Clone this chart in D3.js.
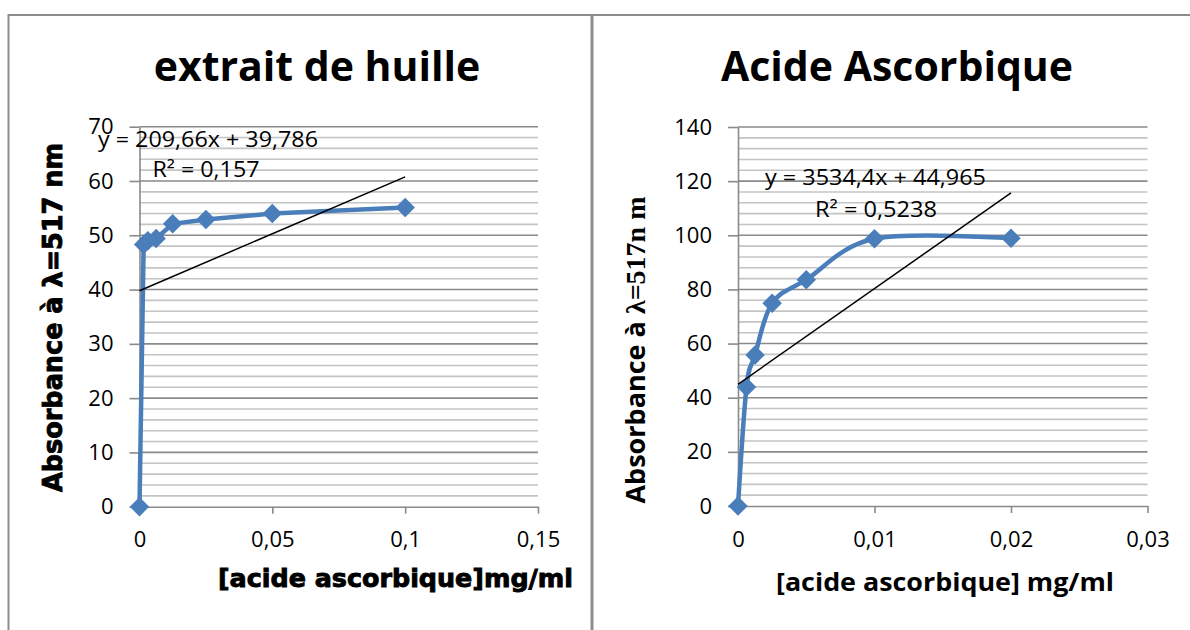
<!DOCTYPE html>
<html>
<head>
<meta charset="utf-8">
<script src="https://cdn.jsdelivr.net/npm/d3@7"></script>
<style>
  body { margin: 0; background: #fff; }
  svg { display: block; }
</style>
</head>
<body>
<svg width="1190" height="630"></svg>
<script>
// extrait de huille
var huileX = [0, 0.0015625, 0.003125, 0.00625, 0.0125, 0.025, 0.05, 0.1];
var huileY = [0, 48.3, 49, 49.4, 52.1, 52.9, 54, 55.1];
var huileXTicks = [0, 0.05, 0.1, 0.15];
var huileYTicks = [0, 10, 20, 30, 40, 50, 60, 70];
var huileTrend = [209.66, 39.786];

// acide ascorbique
var ascX = [0, 0.000625, 0.00125, 0.0025, 0.005, 0.01, 0.02];
var ascY = [0, 44, 55.8, 74.9, 83.6, 98.7, 98.9];
var ascXTicks = [0, 0.01, 0.02, 0.03];
var ascYTicks = [0, 20, 40, 60, 80, 100, 120, 140];
var ascTrend = [3534.4, 44.965];

var svg = d3.select("svg");
var blue = "#4a7ebb";
var fmt = function(d) { return String(d).replace(".", ","); };

// panel borders
svg.append("line").attr("x1", 8).attr("x2", 1190).attr("y1", 15).attr("y2", 15)
  .attr("stroke", "#8c8c8c").attr("stroke-width", 2);
svg.append("line").attr("x1", 8.5).attr("x2", 8.5).attr("y1", 14).attr("y2", 630)
  .attr("stroke", "#8c8c8c").attr("stroke-width", 2);
svg.append("line").attr("x1", 592).attr("x2", 592).attr("y1", 14).attr("y2", 630)
  .attr("stroke", "#8c8c8c").attr("stroke-width", 3);

function drawChart(o) {
  var g = svg.append("g");
  var x = d3.scaleLinear().domain([0, o.xTicks[o.xTicks.length - 1]]).range([o.left, o.right]);
  var y = d3.scaleLinear().domain([0, o.yTicks[o.yTicks.length - 1]]).range([o.bottom, o.top]);

  var minor = d3.range(0, y.domain()[1] + 0.001, o.minorStep)
    .filter(function(d) { return o.yTicks.indexOf(d) < 0; });

  g.append("g").selectAll("line").data(minor).join("line")
    .attr("x1", o.left).attr("x2", o.right)
    .attr("y1", function(d) { return y(d); }).attr("y2", function(d) { return y(d); })
    .attr("stroke", "#c4c4c4").attr("stroke-width", 1.6);

  g.append("g").selectAll("line").data(o.yTicks.slice(1)).join("line")
    .attr("x1", o.left).attr("x2", o.right)
    .attr("y1", function(d) { return y(d); }).attr("y2", function(d) { return y(d); })
    .attr("stroke", "#8a8a8a").attr("stroke-width", 1.6);

  var ya = g.append("g").attr("transform", "translate(" + o.left + ",0)")
    .call(d3.axisLeft(y).tickValues(o.yTicks).tickSize(10).tickSizeOuter(0)
      .tickPadding(16).tickFormat(fmt));
  var xa = g.append("g").attr("transform", "translate(0," + o.bottom + ")")
    .call(d3.axisBottom(x).tickValues(o.xTicks).tickSize(7).tickSizeOuter(0)
      .tickPadding(18).tickFormat(fmt));
  [ya, xa].forEach(function(a) {
    a.selectAll("path, line").attr("stroke", "#8a8a8a").attr("stroke-width", 1.6);
    a.selectAll("text").attr("fill", "#000")
      .style("font-family", "'Open Sans', sans-serif").style("font-size", "22px");
  });

  var pts = o.xs.map(function(d, i) { return [x(d), y(o.ys[i])]; });
  g.append("path").attr("d", d3.line().curve(o.curve)(pts))
    .attr("fill", "none").attr("stroke", blue).attr("stroke-width", 4.5)
    .attr("stroke-linejoin", "round");

  g.append("g").selectAll("path").data(pts).join("path")
    .attr("d", d3.symbol(d3.symbolSquare, 190)())
    .attr("transform", function(d) { return "translate(" + d[0] + "," + d[1] + ") rotate(45)"; })
    .attr("fill", blue);

  var tx = [0, o.xs[o.xs.length - 1]];
  g.append("line")
    .attr("x1", x(tx[0])).attr("y1", y(o.trend[0] * tx[0] + o.trend[1]))
    .attr("x2", x(tx[1])).attr("y2", y(o.trend[0] * tx[1] + o.trend[1]))
    .attr("stroke", "#000").attr("stroke-width", 1.5);

  g.append("text").attr("x", o.titleX).attr("y", 81).attr("text-anchor", "middle")
    .style("font-family", "'Open Sans', sans-serif").style("font-weight", 700)
    .style("font-size", "41px").text(o.title);

  o.eq.forEach(function(e) {
    g.append("text").attr("x", e.x).attr("y", e.y).attr("text-anchor", "middle")
      .attr("textLength", e.w).attr("lengthAdjust", "spacingAndGlyphs")
      .style("font-family", "'Open Sans', sans-serif").style("font-size", "21px")
      .text(e.t);
  });
  return g;
}

drawChart({
  xs: huileX, ys: huileY, xTicks: huileXTicks, yTicks: huileYTicks, minorStep: 2,
  trend: huileTrend, curve: d3.curveLinear,
  left: 139.5, right: 538, top: 126.7, bottom: 506.7,
  title: "extrait de huille", titleX: 317,
  eq: [{ t: "y = 209,66x + 39,786", x: 208, y: 147, w: 220 },
       { t: "R² = 0,157", x: 206, y: 177, w: 107 }]
});

drawChart({
  xs: ascX, ys: ascY, xTicks: ascXTicks, yTicks: ascYTicks, minorStep: 4,
  trend: ascTrend, curve: d3.curveCardinal,
  left: 738, right: 1147.5, top: 127, bottom: 506,
  title: "Acide Ascorbique", titleX: 897,
  eq: [{ t: "y = 3534,4x + 44,965", x: 875.5, y: 185, w: 221 },
       { t: "R² = 0,5238", x: 876, y: 217, w: 122 }]
});

// axis titles
svg.append("text").attr("transform", "translate(62,317.5) rotate(-90)")
  .attr("text-anchor", "middle").attr("textLength", 349).attr("lengthAdjust", "spacingAndGlyphs")
  .style("font-family", "'DejaVu Sans', sans-serif").style("font-weight", 700)
  .style("font-size", "26px").attr("stroke", "#000").attr("stroke-width", 0.9)
  .text("Absorbance à λ=517 nm");

svg.append("text").attr("x", 395.5).attr("y", 587)
  .attr("text-anchor", "middle").attr("textLength", 355).attr("lengthAdjust", "spacingAndGlyphs")
  .style("font-family", "'DejaVu Sans', sans-serif").style("font-weight", 700)
  .style("font-size", "25px").attr("stroke", "#000").attr("stroke-width", 0.9)
  .text("[acide ascorbique]mg/ml");

var ry = svg.append("text").attr("transform", "translate(645,350) rotate(-90)")
  .attr("text-anchor", "middle").style("font-weight", 700);
ry.append("tspan").style("font-family", "'Open Sans', sans-serif").style("font-size", "27px")
  .text("Absorbance à ");
ry.append("tspan").style("font-family", "'Liberation Serif', serif").style("font-size", "28px")
  .text("λ=517n m");

svg.append("text").attr("x", 945).attr("y", 591)
  .attr("text-anchor", "middle").attr("textLength", 338).attr("lengthAdjust", "spacingAndGlyphs")
  .style("font-family", "'Open Sans', sans-serif").style("font-weight", 700)
  .style("font-size", "25px").text("[acide ascorbique] mg/ml");
</script>
</body>
</html>
